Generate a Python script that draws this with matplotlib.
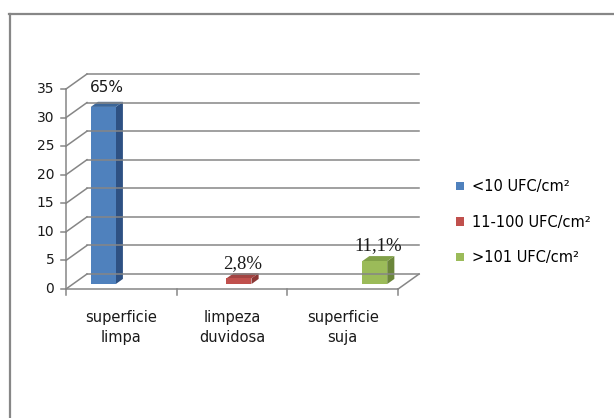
import matplotlib
matplotlib.use("Agg")
import matplotlib.pyplot as plt
from matplotlib.patches import Polygon, Patch
from matplotlib.lines import Line2D

# chart data
categories = ['superficie\nlimpa', 'limpeza\nduvidosa', 'superficie\nsuja']
series_names = ['<10 UFC/cm²', '11-100 UFC/cm²', '>101 UFC/cm²']
blue_vals = [31, 0, 0]
red_vals = [0, 1, 0]
green_vals = [0, 0, 4]
blue_labels = ['65%', '', '']
red_labels = ['', '2,8%', '']
green_labels = ['', '', '11,1%']
y_ticks = [0, 5, 10, 15, 20, 25, 30, 35]

series = [blue_vals, red_vals, green_vals]
series_labels = [blue_labels, red_labels, green_labels]
face = ['#4F81BD', '#C0504D', '#9BBB59']
side = ['#2E5183', '#8C3735', '#6B863A']
top = ['#3B6699', '#A24442', '#81A048']
label_font = [dict(family='DejaVu Sans', size=11),
              dict(family='Liberation Serif', size=13.5),
              dict(family='Liberation Serif', size=13.5)]
label_gap = [2.9, 2.2, 2.2]

GRID = '#868686'
W, H = 614, 418
CAT_PX = 110.7          # width of one category on the front axis
UNIT_PX = 200 / 35      # pixels per value unit
DX = 21 / CAT_PX        # depth offset of the back wall, in data units
DY = 15 / UNIT_PX
YMAX = 35
BW = 0.226              # bar width (category units)
D0, D1 = 0.33, 0.67     # bar depth range

fig = plt.figure(figsize=(W / 100, H / 100), dpi=100)
ax = fig.add_axes([66 / W, (H - 289) / H,
                   (3 + DX) * CAT_PX / W, (YMAX + DY) * UNIT_PX / H])
ax.set_xlim(0, 3 + DX)
ax.set_ylim(0, YMAX + DY)
ax.axis('off')

lw = 1.1
# back wall gridlines and left wall diagonals
for v in y_ticks:
    ax.plot([DX, 3 + DX], [v + DY, v + DY], color=GRID, lw=lw, clip_on=False)
    ax.plot([0, DX], [v, v + DY], color=GRID, lw=lw, clip_on=False)
# front axes
tick_x = 5 / CAT_PX
tick_y = 6 / UNIT_PX
ax.plot([0, 0], [0, YMAX], color=GRID, lw=lw, clip_on=False)
for v in y_ticks:
    ax.plot([-tick_x, 0], [v, v], color=GRID, lw=lw, clip_on=False)
    ax.text(-tick_x - 0.06, v, str(v), ha='right', va='center',
            fontsize=10, color='#1a1a1a', family='DejaVu Sans')
ax.plot([0, 3], [0, 0], color=GRID, lw=lw, clip_on=False)
ax.plot([3, 3 + DX], [0, DY], color=GRID, lw=lw, clip_on=False)
for i in range(4):
    ax.plot([i, i], [0, -tick_y], color=GRID, lw=lw, clip_on=False)
for i, c in enumerate(categories):
    ax.text(i + 0.5, -3.6, c, ha='center', va='top', fontsize=10.5,
            linespacing=1.45, color='#1a1a1a', family='DejaVu Sans')

# 3D bars
for s, vals in enumerate(series):
    for i, v in enumerate(vals):
        if v <= 0:
            continue
        xc = i + 0.5 + (s - 1) * BW
        x0 = xc - BW / 2
        x1 = xc + BW / 2
        fx0, fx1 = x0 + D0 * DX, x1 + D0 * DX
        bx0, bx1 = x0 + D1 * DX, x1 + D1 * DX
        fy0, fy1 = D0 * DY, v + D0 * DY
        by0, by1 = D1 * DY, v + D1 * DY
        ax.add_patch(Polygon([(fx1, fy0), (bx1, by0), (bx1, by1), (fx1, fy1)],
                             closed=True, fc=side[s], ec='none', clip_on=False))
        ax.add_patch(Polygon([(fx0, fy1), (fx1, fy1), (bx1, by1), (bx0, by1)],
                             closed=True, fc=top[s], ec='none', clip_on=False))
        ax.add_patch(Polygon([(fx0, fy0), (fx1, fy0), (fx1, fy1), (fx0, fy1)],
                             closed=True, fc=face[s], ec='none', clip_on=False))
        lab = series_labels[s][i]
        if lab:
            ax.text(xc + 0.5 * DX, v + 0.5 * DY + label_gap[s], lab,
                    ha='center', va='center', color='#1a1a1a', **label_font[s])

handles = [Patch(fc=face[s], ec='none') for s in range(3)]
fig.legend(handles, series_names, loc='upper left',
           bbox_to_anchor=(449 / W, 1 - 172 / H), frameon=False,
           handlelength=0.5, handleheight=0.5,
           handletextpad=0.6, labelspacing=1.4, borderpad=0,
           prop=dict(family='DejaVu Sans', size=10.5))

# outer frame (top and left edges)
fig.add_artist(Line2D([9 / W, 1], [1 - 14 / H] * 2, transform=fig.transFigure,
                      color='#878787', lw=1.6))
fig.add_artist(Line2D([10 / W] * 2, [0, 1 - 14 / H], transform=fig.transFigure,
                      color='#878787', lw=1.6))

fig.savefig('out.png', dpi=100)
